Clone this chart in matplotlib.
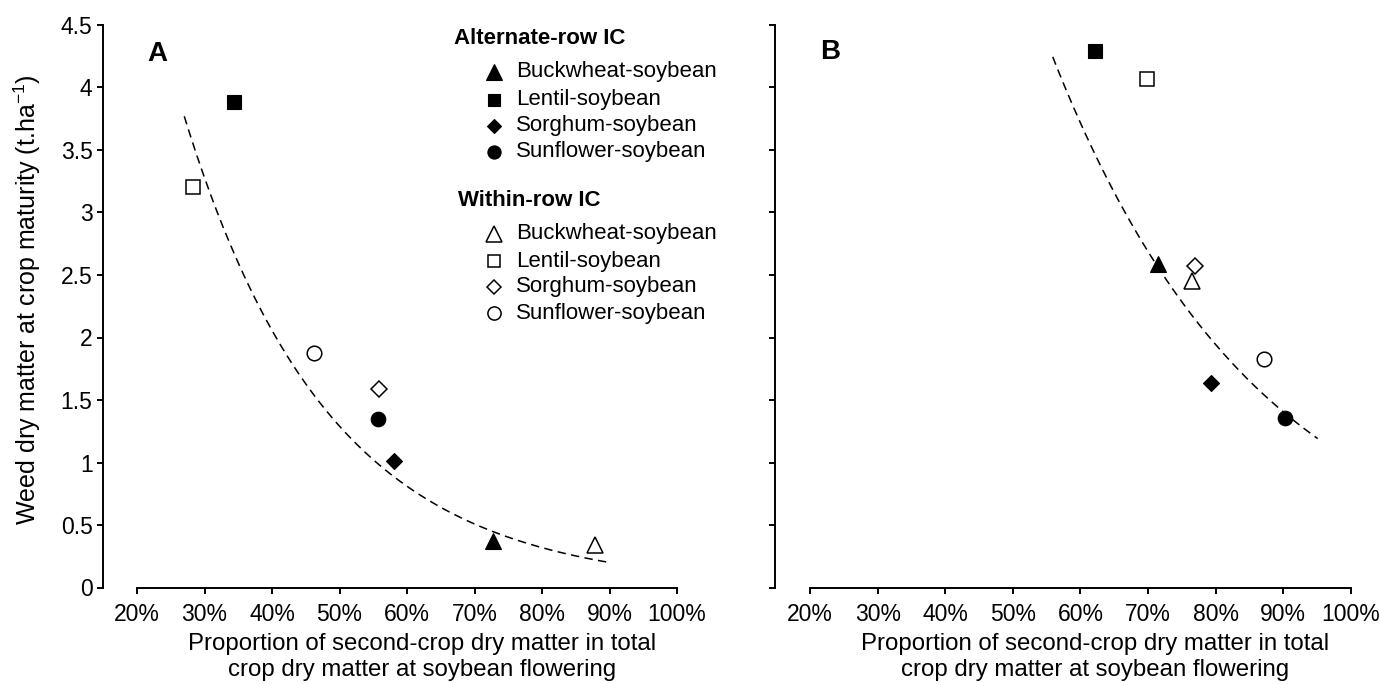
import numpy as np
import matplotlib
matplotlib.use("Agg")
import matplotlib.pyplot as plt
import matplotlib.transforms as mtransforms

plt.rcParams['font.family'] = ['Liberation Sans', 'DejaVu Sans']
plt.rcParams['mathtext.fontset'] = 'custom'
plt.rcParams['mathtext.rm'] = 'Liberation Sans'
plt.rcParams['mathtext.it'] = 'Liberation Sans:italic'

# ---------------- data ----------------
systems = ["Buckwheat-soybean", "Lentil-soybean", "Sorghum-soybean", "Sunflower-soybean"]
group_titles = ["Alternate-row IC", "Within-row IC"]

# Panel A: proportion of second-crop DM (%) and weed DM (t/ha)
a_alt_x = [72.8, 34.4, 58.0, 55.7]
a_alt_y = [0.37, 3.88, 1.01, 1.35]
a_win_x = [87.9, 28.3, 55.9, 46.2]
a_win_y = [0.34, 3.20, 1.59, 1.88]

# Panel B
b_alt_x = [71.5, 62.2, 79.3, 90.2]
b_alt_y = [2.59, 4.29, 1.64, 1.36]
b_win_x = [76.5, 69.9, 77.0, 87.1]
b_win_y = [2.45, 4.07, 2.57, 1.83]

# fitted exponential curves  y = a * exp(-b * p), p as fraction; drawn over [p0, p1]
fit_a_params = (13.27, 4.661, 0.270, 0.900)
fit_b_params = (26.0, 3.242, 0.559, 0.951)

x_ticks = [20, 30, 40, 50, 60, 70, 80, 90, 100]
x_ticklabels = ["20%", "30%", "40%", "50%", "60%", "70%", "80%", "90%", "100%"]
y_ticks = [0, 0.5, 1, 1.5, 2, 2.5, 3, 3.5, 4, 4.5]
y_ticklabels = ["0", "0.5", "1", "1.5", "2", "2.5", "3", "3.5", "4", "4.5"]

xlabel = "Proportion of second-crop dry matter in total\ncrop dry matter at soybean flowering"
ylabel = "Weed dry matter at crop maturity (t.ha$^{-1}$)"

# ---------------- styles ----------------
markers = ['^', 's', 'D', 'o']
msizes = [12, 9.5, 8.2, 10.5]
leg_msizes = [11.5, 9.0, 6.8, 9.5]
mew = 1.1

W, H = 1381, 684
fig = plt.figure(figsize=(W / 100, H / 100), dpi=100)

def px_axes(left, right, top, bottom):
    return fig.add_axes([left / W, 1 - bottom / H, (right - left) / W, (bottom - top) / H])

ylim = (0, 4.6)
ax_bottom, ax_top = 587.5, 587.5 - 4.6 * 125

axA = px_axes(103, 103 + (102 - 14.96) * 6.75, ax_top, ax_bottom)
axA.set_xlim(14.96, 102)
axB = px_axes(775, 775 + (102 - 14.82) * 6.76, ax_top, ax_bottom)
axB.set_xlim(14.82, 102)

def draw_panel(ax, alt_x, alt_y, win_x, win_y, fit, letter):
    a, b, p0, p1 = fit
    p = np.linspace(p0, p1, 200)
    ax.plot(p * 100, a * np.exp(-b * p), color='black', lw=1.1,
            linestyle=(0, (5.5, 3.5)), zorder=2)
    for i in range(4):
        ax.plot(alt_x[i], alt_y[i], marker=markers[i], ms=msizes[i], color='black',
                mec='black', mew=0.8, linestyle='none', zorder=3, clip_on=False)
        ax.plot(win_x[i], win_y[i], marker=markers[i], ms=msizes[i], mfc='white',
                mec='black', mew=mew, linestyle='none', zorder=3, clip_on=False)
    ax.set_ylim(*ylim)
    for s in ['top', 'right']:
        ax.spines[s].set_visible(False)
    ax.spines['left'].set_bounds(0, 4.5)
    ax.spines['bottom'].set_bounds(20, 100)
    for s in ['left', 'bottom']:
        ax.spines[s].set_linewidth(1.4)
    ax.set_xticks(x_ticks)
    ax.set_xticklabels(x_ticklabels)
    ax.set_yticks(y_ticks)
    ax.set_yticklabels(y_ticklabels)
    ax.tick_params(axis='both', direction='out', length=4, width=1.4, labelsize=16.5)
    ax.tick_params(axis='x', pad=7)
    ax.tick_params(axis='y', pad=3.5)
    ax.set_xlabel(xlabel, fontsize=17.3, linespacing=1.25, va='center')
    trans = mtransforms.blended_transform_factory(ax.transData, fig.transFigure)
    ax.xaxis.set_label_coords(62.2, 1 - 657 / H, transform=trans)
    ax.patch.set_visible(False)

draw_panel(axA, a_alt_x, a_alt_y, a_win_x, a_win_y, fit_a_params, "A")
draw_panel(axB, b_alt_x, b_alt_y, b_win_x, b_win_y, fit_b_params, "B")
axB.set_yticklabels([])

# panel letters
fig.text(157 / W, 1 - 54 / H, "A", fontsize=20, fontweight='bold', ha='center', va='center')
fig.text(830 / W, 1 - 52 / H, "B", fontsize=20, fontweight='bold', ha='center', va='center')

# y label
fig.text(27 / W, 1 - 300 / H, ylabel, fontsize=18, rotation=90, ha='center', va='center')

# legend (manual, in figure pixels)
def fx(px):
    return px / W

def fy(py):
    return 1 - py / H

fig.text(fx(454), fy(39), group_titles[0], fontsize=16, fontweight='bold', va='center', ha='left')
fig.text(fx(458), fy(201), group_titles[1], fontsize=16, fontweight='bold', va='center', ha='left')
alt_rows = [72, 100, 126, 152]
win_rows = [234, 261, 287, 313]
for i in range(4):
    fig.lines.append(plt.Line2D([fx(494)], [fy(alt_rows[i])], marker=markers[i], ms=leg_msizes[i],
                                color='black', mew=0.8, linestyle='none', transform=fig.transFigure))
    fig.text(fx(516), fy(alt_rows[i]), systems[i], fontsize=16, va='center', ha='left')
    fig.lines.append(plt.Line2D([fx(494)], [fy(win_rows[i])], marker=markers[i], ms=leg_msizes[i],
                                mfc='white', mec='black', mew=mew, linestyle='none',
                                transform=fig.transFigure))
    fig.text(fx(516), fy(win_rows[i]), systems[i], fontsize=16, va='center', ha='left')

fig.savefig("out.png", dpi=100)
